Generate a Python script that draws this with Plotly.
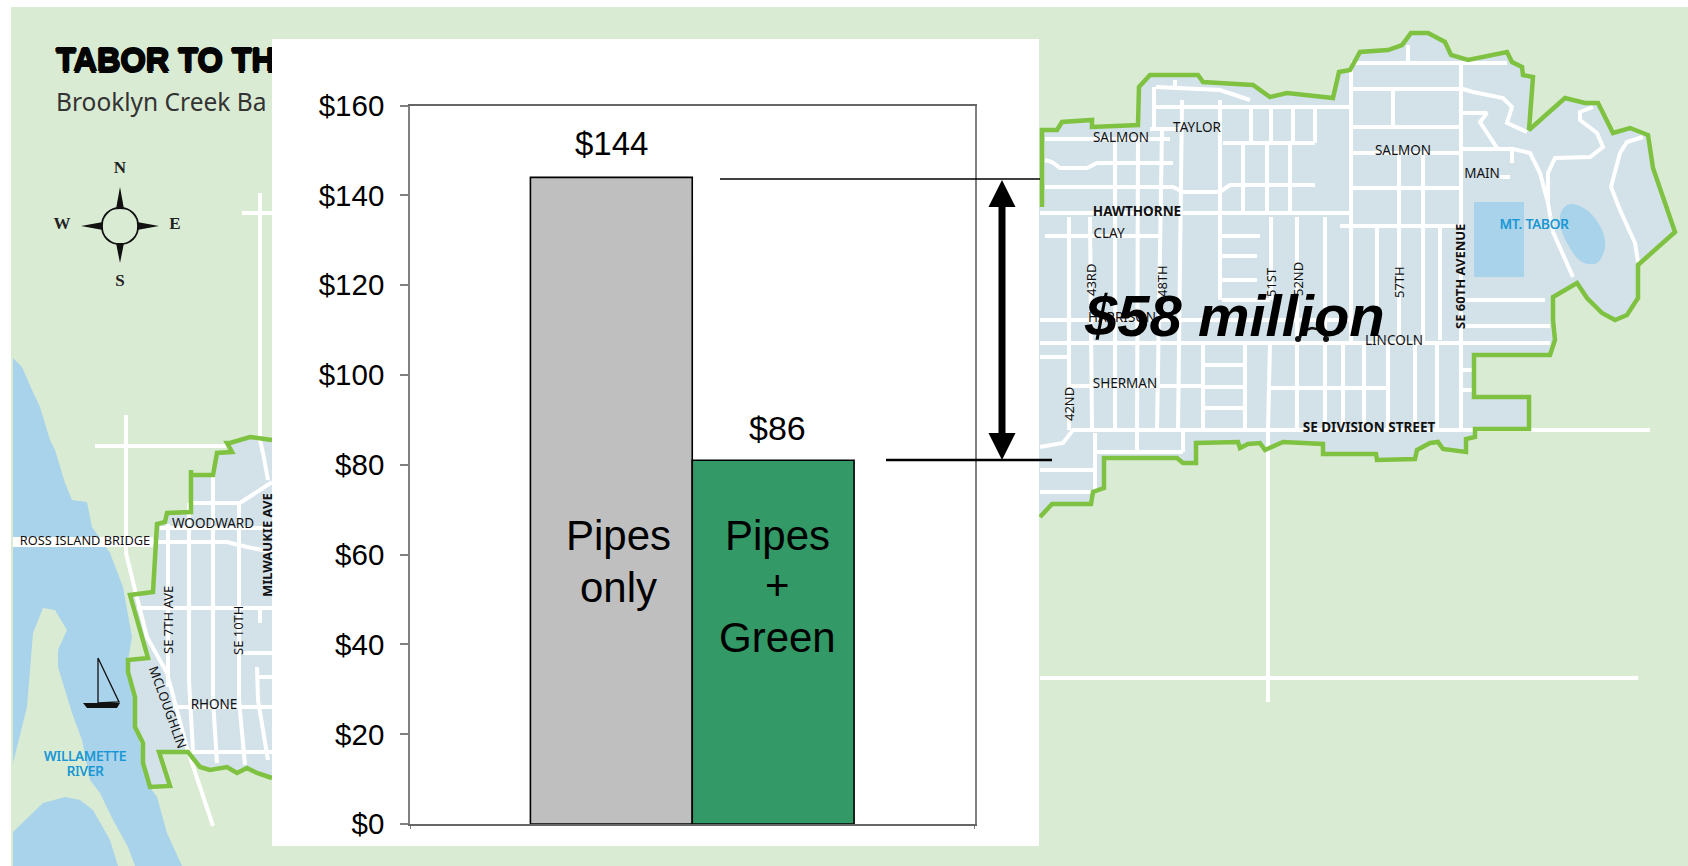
import plotly.graph_objects as go

# ---------- chart data ----------
SERIES_NAMES = ["Pipes only", "Pipes + Green"]
BAR_VALUES = [144, 81]
BAR_LABELS = ["$144", "$86"]
BAR_COLORS = ["#BFBFBF", "#339966"]
TICK_VALUES = [0, 20, 40, 60, 80, 100, 120, 140, 160]
TICK_LABELS = ["$0", "$20", "$40", "$60", "$80", "$100", "$120", "$140", "$160"]

# ---------- map geometry (illustration behind the chart, page pixels) ----------
BG = "#DAEBD4"; WATER = "#A9D3EA"; DIST = "#D3E2E9"; EDGE = "#7FC241"

RIVER = [(13,358),(22,367),(32,390),(40,407),(50,440),(55,450),(65,483),(72,500),(87,502),(92,527),(110,553),
         (123,587),(132,637),(128,660),(128,673),(135,703),(135,727),(143,753),(147,783),(157,797),(167,833),(182,866),(13,866)]
ISLAND = [(43,608),(55,610),(67,630),(58,650),(58,667),(72,713),(82,740),(90,780),(100,793),(113,820),(128,847),
          (135,866),(13,866),(13,763),(27,707),(30,673),(33,633)]
LOWER_WATER = [(13,832),(43,803),(65,797),(80,800),(93,810),(110,840),(118,866),(13,866)]

WEST_EDGE = [(272,440),(250,437),(230,443),(227,443),(232,452),(217,453),(213,475),(191,475),(191,470),(191,512),
             (167,513),(165,522),(157,524),(155,553),(153,592),(130,595),(148,658),(128,660),(128,672),(135,697),
             (135,727),(143,743),(143,763),(150,787),(170,786),(159,752),(188,752),(200,767),(210,770),(227,767),
             (237,773),(247,768),(257,773),(272,778)]
EAST_EDGE = [(1042,207),(1042,130),(1057,130),(1062,122),(1092,120),(1092,127),(1138,125),(1139,87),(1150,75),(1198,75),
             (1203,82),(1253,85),(1270,97),(1287,93),(1333,98),(1339,72),(1350,70),(1360,52),(1388,50),(1402,45),(1411,33),
             (1428,33),(1445,42),(1451,55),(1468,60),(1507,52),(1512,62),(1522,67),(1523,75),(1533,77),(1529,130),
             (1565,98),(1585,103),(1598,103),(1613,133),(1630,128),(1648,135),(1653,168),(1675,232),(1638,265),(1638,298),
             (1627,315),(1615,320),(1602,313),(1587,298),(1577,283),(1553,297),(1553,320),(1555,340),(1550,355),(1474,355),
             (1474,397),(1529,397),(1529,429),(1475,429),(1475,437),(1466,439),(1466,452),(1443,449),(1438,442),(1430,443),
             (1417,450),(1415,459),(1377,460),(1376,454),(1323,454),(1323,444),(1283,442),(1265,450),(1260,443),(1248,444),
             (1240,448),(1238,442),(1196,443),(1196,463),(1183,463),(1177,458),(1104,458),(1104,488),(1093,492),(1091,504),
             (1052,504),(1040,517)]
RESERVOIR = [(1474,202),(1524,202),(1524,277),(1474,277)]
LAKE = [(1562,210),(1570,204),(1587,210),(1602,230),(1605,247),(1597,263),(1582,262),(1567,243),(1560,223)]

WEST_STREETS = [
    [(95,446),(227,446)], [(126,415),(126,553),(135,590),(147,637),(167,673),(187,748),(213,826)],
    [(260,193),(260,440),(263,453),(268,480)], [(242,213),(272,213)],
    [(272,482),(240,503),(193,503)], [(160,528),(272,528)], [(153,542),(227,542),(247,547),(272,552)],
    [(137,608),(272,608)], [(168,524),(168,687)], [(189,503),(189,680),(193,752)], [(213,470),(213,700),(217,763)],
    [(239,503),(239,700),(245,765)], [(260,608),(260,623)], [(243,653),(272,653)], [(257,667),(258,700),(268,760)],
    [(258,677),(272,677)], [(173,707),(272,707)], [(160,752),(272,752)]]
EAST_STREETS = [
    [(1153,107),(1350,107)], [(1045,139),(1170,139)], [(1150,129),(1180,129)], [(1223,143),(1315,143)],
    [(1045,160),(1052,162),(1060,168),(1087,168),(1097,163),(1173,163)],
    [(1045,187),(1173,187),(1183,192),(1220,192),(1230,185),(1315,185)], [(1040,213),(1351,213)], [(1045,236),(1160,236)],
    [(1222,236),(1260,236)], [(1222,256),(1257,256)], [(1222,280),(1257,280)], [(1222,300),(1270,300)],
    [(1156,87),(1220,90),(1250,100)], [(1154,87),(1154,130)], [(1175,80),(1175,87)],
    [(1069,217),(1069,430)], [(1090,217),(1092,430)], [(1115,139),(1115,430)], [(1138,139),(1137,450)],
    [(1162,129),(1157,430)], [(1182,100),(1178,430)], [(1220,100),(1220,300)], [(1243,143),(1243,213)], [(1267,143),(1267,213)],
    [(1290,143),(1290,213)], [(1271,217),(1271,300)], [(1297,217),(1297,343)], [(1325,217),(1325,343)], [(1251,107),(1251,143)],
    [(1271,107),(1271,143)], [(1293,107),(1293,143)], [(1315,107),(1315,143)],
    [(1040,320),(1352,320)], [(1040,343),(1550,343)], [(1040,357),(1070,357)], [(1070,386),(1203,386)], [(1270,388),(1387,388)],
    [(1040,447),(1063,443),(1073,430),(1529,430)], [(1529,430),(1650,430)], [(1095,452),(1183,452)], [(1040,470),(1097,470)],
    [(1040,492),(1093,492)], [(1095,433),(1095,490)], [(1183,430),(1183,452)],
    [(1203,343),(1203,430)], [(1203,365),(1243,365)], [(1203,387),(1243,387)], [(1203,408),(1243,408)],
    [(1245,343),(1245,430)], [(1270,343),(1268,430),(1268,702)], [(1040,678),(1638,678)],
    [(1297,343),(1297,430)], [(1325,343),(1325,430)], [(1343,343),(1343,430)], [(1364,343),(1364,430)], [(1388,343),(1388,430)],
    [(1415,343),(1415,430)], [(1437,343),(1437,430)], [(1461,63),(1461,430)], [(1351,70),(1351,343)],
    [(1351,63),(1507,63)], [(1353,89),(1463,89),(1473,92),(1503,98),(1512,107),(1507,123),(1527,132)], [(1393,89),(1393,127)],
    [(1351,127),(1460,127)], [(1463,113),(1487,113),(1480,122),(1497,148)],
    [(1463,149),(1513,149),(1530,153),(1540,173),(1548,203),(1553,232),(1573,277)], [(1353,153),(1460,153)], [(1512,150),(1512,163)],
    [(1500,177),(1510,177)], [(1399,155),(1399,343)], [(1423,155),(1423,343)], [(1353,188),(1460,188)], [(1340,226),(1463,226)],
    [(1377,227),(1377,340)], [(1440,227),(1440,340)], [(1465,300),(1545,300)], [(1465,326),(1550,326)], [(1408,45),(1408,62)],
    [(1461,370),(1474,370)], [(1461,390),(1474,390)],
    [(1548,203),(1548,173),(1555,158),(1590,157),(1603,147),(1597,133),(1580,120),(1580,112),(1593,107)],
    [(1643,137),(1627,142),(1620,153),(1611,187),(1620,210),(1635,243),(1638,262)],
]

MAP_TEXT = ["SALMON","TAYLOR","CLAY","SHERMAN","HARRISON","LINCOLN","SALMON","MAIN","WOODWARD","RHONE"]
MAP_TEXT_X = [1121,1197,1109,1125,1122,1394,1403,1482,213,214]
MAP_TEXT_Y = [139,129,235,385,319,342,152,175,525,706]
BOLD_TEXT = ["HAWTHORNE","SE DIVISION STREET"]
BOLD_TEXT_X = [1137,1369]
BOLD_TEXT_Y = [213,429]
BLUE_TEXT = ["MT. TABOR","WILLAMETTE","RIVER"]
BLUE_TEXT_X = [1534,85,85]
BLUE_TEXT_Y = [226,758,773]
ROTATED = [("SE 7TH AVE",168,620,-90,False),("SE 10TH",238,631,-90,False),("MILWAUKIE AVE",267,545,-90,True),
           ("MCLOUGHLIN",168,707,70,False),("42ND",1069,404,-90,False),("43RD",1091,280,-90,False),("48TH",1162,281,-90,False),
           ("51ST",1271,282,-90,False),("52ND",1298,279,-90,False),("57TH",1399,282,-90,False),("SE 60TH AVENUE",1460,277,-90,True)]

BAR_TEXT = [("Pipes",618,535),("only",618,587),("Pipes",777,535),("+",777,585),("Green",777,637)]

PANEL = [(272,39),(1039,39),(1039,846),(272,846)]
COMPASS_SPIKES = [[(120,187),(116,209),(124,209)],[(120,263),(116,243),(124,243)],[(81,226),(103,222),(103,230)],[(159,226),(137,222),(137,230)]]
COMPASS_RING = [(120,208),(127,209),(133,213),(137,219),(138,226),(137,233),(133,239),(127,243),(120,244),(113,243),(107,239),(103,233),(102,226),(103,219),(107,213),(113,209),(120,208)]
COMPASS_LETTERS = ["N","S","W","E"]
COMPASS_X = [120,120,62,175]
COMPASS_Y = [169,282,225,225]
BOAT_SAIL = [(98,658),(98,703),(119,702),(98,658)]
BOAT_HULL = [(83,703),(120,703),(117,708),(87,708)]
CAR_BODY = [(1300,338),(1302,331),(1312,328),(1322,330),(1326,338)]
CAR_WHEELS_X = [1298,1326]
CAR_WHEELS_Y = [339,339]


def xy(pts):
    return [p[0] for p in pts], [p[1] for p in pts]


def poly(pts, fill, **kw):
    x, y = xy(pts)
    return go.Scatter(x=x + x[:1], y=y + y[:1], mode="lines", fill="toself", fillcolor=fill,
                      line=dict(width=0, color=fill), hoverinfo="skip", **kw)


def multiline(lines, color, width):
    xs, ys = [], []
    for ln in lines:
        x, y = xy(ln)
        xs += x + [None]
        ys += y + [None]
    return go.Scatter(x=xs, y=ys, mode="lines", line=dict(color=color, width=width), hoverinfo="skip")


def label(text, x, y, size, color="#111111", family="Noto Sans", weight="normal", pos="middle center", **extra):
    return go.Scatter(x=x, y=y, text=text, mode="text", textposition=pos, hoverinfo="skip",
                      textfont=dict(size=size, color=color, family=family, weight=weight, **extra))


fig = go.Figure()
# background and water
fig.add_trace(poly([(11,7),(1688,7),(1688,866),(11,866)], BG))
fig.add_trace(poly(RIVER, WATER))
fig.add_trace(poly(ISLAND, BG))
fig.add_trace(poly(LOWER_WATER, WATER))
# district fills
fig.add_trace(poly(WEST_EDGE + [(272,778)], DIST))
fig.add_trace(poly(EAST_EDGE + [(1030,517),(1030,207)], DIST))
fig.add_trace(poly(RESERVOIR, WATER))
lx, ly = xy(LAKE)
fig.add_trace(go.Scatter(x=lx + lx[:1], y=ly + ly[:1], mode="lines", fill="toself", fillcolor=WATER,
                         line=dict(width=0, shape="spline", color=WATER), hoverinfo="skip"))
# streets
fig.add_trace(go.Scatter(x=[13,153], y=[542,542], mode="lines", line=dict(color="white", width=10), hoverinfo="skip"))
fig.add_trace(multiline(WEST_STREETS + EAST_STREETS, "white", 4))
# district boundaries
for edge in (WEST_EDGE, EAST_EDGE):
    ex, ey = xy(edge)
    fig.add_trace(go.Scatter(x=ex, y=ey, mode="lines", line=dict(color=EDGE, width=4.5, shape="linear"), hoverinfo="skip"))
# compass and boat
for spike in COMPASS_SPIKES:
    fig.add_trace(poly(spike, "#111111"))
rx, ry = xy(COMPASS_RING)
fig.add_trace(go.Scatter(x=rx, y=ry, mode="lines", fill="toself", fillcolor=BG, line=dict(color="#111111", width=1.8, shape="spline"), hoverinfo="skip"))
fig.add_trace(label(COMPASS_LETTERS, COMPASS_X, COMPASS_Y, 17, "#222222", "Liberation Serif", "bold"))
sx, sy = xy(BOAT_SAIL)
fig.add_trace(go.Scatter(x=sx, y=sy, mode="lines", line=dict(color="#111111", width=1.3), hoverinfo="skip"))
fig.add_trace(poly(BOAT_HULL, "#111111"))
# car under the callout
cx, cy = xy(CAR_BODY)
fig.add_trace(go.Scatter(x=cx, y=cy, mode="lines", line=dict(color="#111111", width=2.5), hoverinfo="skip"))
fig.add_trace(go.Scatter(x=CAR_WHEELS_X, y=CAR_WHEELS_Y, mode="markers", marker=dict(color="#111111", size=6), hoverinfo="skip"))
# map texts
fig.add_trace(label(MAP_TEXT, MAP_TEXT_X, MAP_TEXT_Y, 13.5))
fig.add_trace(label(["ROSS ISLAND BRIDGE"], [85], [542], 12.8))
fig.add_trace(label(BOLD_TEXT, BOLD_TEXT_X, BOLD_TEXT_Y, 13.5, weight="bold"))
fig.add_trace(label(BLUE_TEXT, BLUE_TEXT_X, BLUE_TEXT_Y, 13.5, "#1A98D5", shadow="0.4px 0 0 #1A98D5"))
fig.add_trace(label(["TABOR TO TH"], [56], [63], 32.5, "#050505", "Liberation Sans", "bold", "middle right",
                    shadow="1px 0 0 #050505, -1px 0 0 #050505, 0 1.5px 0 #050505, 0 -1.5px 0 #050505"))
fig.add_trace(label(["Brooklyn Creek Ba"], [56], [105], 24.5, "#333333", "Noto Sans", "normal", "middle right"))
# white chart panel over the map
fig.add_trace(poly(PANEL, "white"))

# the chart
for name, val, color in zip(SERIES_NAMES, BAR_VALUES, BAR_COLORS):
    fig.add_trace(go.Bar(x=[0], y=[val], name=name, marker=dict(color=color, line=dict(color="#000000", width=1.6)),
                         xaxis="x2", yaxis="y2", hoverinfo="skip"))

# rotated street names
annotations = []
for txt, x, y, ang, bold in ROTATED:
    annotations.append(dict(x=x, y=y, xref="x", yref="y", text=txt, textangle=ang, showarrow=False,
                            font=dict(size=13, family="Noto Sans", color="#111111", weight="bold" if bold else "normal")))
# chart texts
AR = "Liberation Sans"
annotations += [
    dict(x=611, y=143, xref="x", yref="y", text=BAR_LABELS[0], showarrow=False, font=dict(size=33, family=AR, color="black")),
    dict(x=777, y=428, xref="x", yref="y", text=BAR_LABELS[1], showarrow=False, font=dict(size=34, family=AR, color="black")),
    dict(x=1234.5, y=315, xref="x", yref="y", text="<b><i>$58 million</i></b>", showarrow=False, font=dict(size=58, family=AR, color="black")),
]
for txt, x, y in BAR_TEXT:
    annotations.append(dict(x=x, y=y, xref="x", yref="y", text=txt, showarrow=False, font=dict(size=42, family=AR, color="black")))

ARROW_X = 1002
shapes = [
    dict(type="line", xref="x", yref="y", x0=720, x1=1040, y0=179, y1=179, line=dict(color="black", width=1.6), layer="above"),
    dict(type="line", xref="x", yref="y", x0=886, x1=1052, y0=460, y1=460, line=dict(color="black", width=2.6), layer="above"),
    dict(type="path", xref="x", yref="y", fillcolor="black", line=dict(color="black", width=0), layer="above",
         path=f"M {ARROW_X} 180 L {ARROW_X+13.5} 207 L {ARROW_X+3.5} 207 L {ARROW_X+3.5} 433 L {ARROW_X+13.5} 433 "
              f"L {ARROW_X} 460 L {ARROW_X-13.5} 433 L {ARROW_X-3.5} 433 L {ARROW_X-3.5} 207 L {ARROW_X-13.5} 207 Z"),
]

W, H = 1688, 866
fig.update_layout(
    width=W, height=H, margin=dict(l=0, r=0, t=0, b=0, autoexpand=False), autosize=False,
    paper_bgcolor="white", plot_bgcolor="rgba(0,0,0,0)", showlegend=False,
    barmode="group", bargap=0.4266, bargroupgap=0,
    annotations=annotations, shapes=shapes,
    xaxis=dict(domain=[0, 1], range=[0, W], visible=False, fixedrange=True, automargin=False),
    yaxis=dict(domain=[0, 1], range=[H, 0], visible=False, fixedrange=True, automargin=False),
    xaxis2=dict(domain=[410/W, 974.5/W], range=[-0.5, 0.5], anchor="y2", tickvals=[-0.5, 0.5], ticktext=["", ""],
                ticks="outside", ticklen=3, tickcolor="#808080", showline=True, linecolor="#666666", linewidth=1.5,
                mirror=True, showgrid=False, zeroline=False, fixedrange=True, automargin=False),
    yaxis2=dict(domain=[1-824/H, 1-105.5/H], range=[0, 160], anchor="x2", tickvals=TICK_VALUES, ticktext=TICK_LABELS,
                ticks="outside", ticklen=8, tickcolor="#808080", tickwidth=1.5, showline=True, linecolor="#808080",
                linewidth=1.5, mirror=True, showgrid=False, zeroline=False, fixedrange=True, automargin=False,
                tickfont=dict(size=29.5, family=AR, color="black"), ticklabelstandoff=10),
)

fig.write_html("out.html", config={"displayModeBar": False},
               post_script="document.body.style.margin='0';document.body.style.overflow='hidden';window.dispatchEvent(new Event('resize'));")
